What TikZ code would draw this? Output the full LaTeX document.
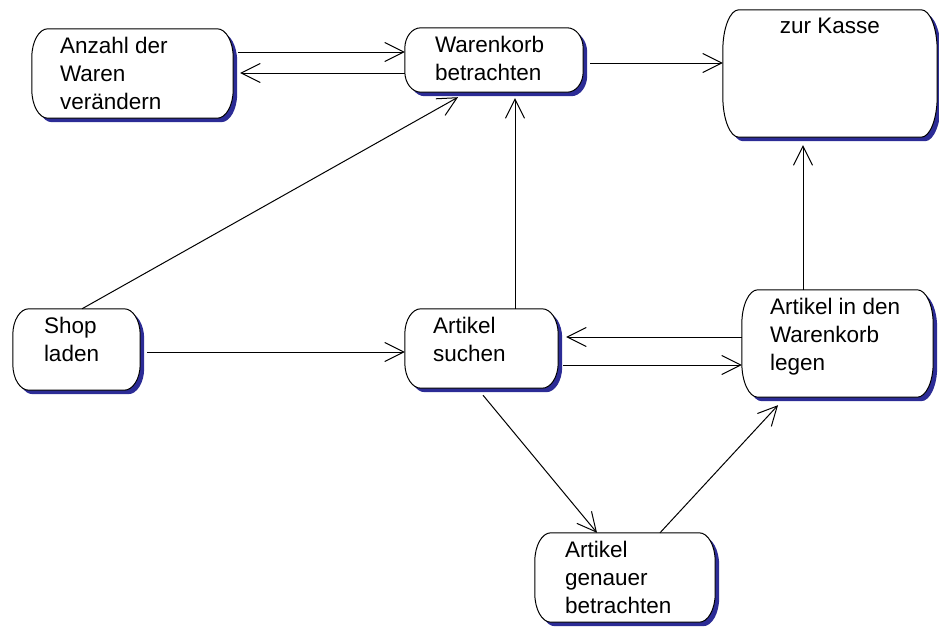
\documentclass[tikz,border=0pt]{standalone}
\usepackage{fontspec}
\setmainfont{Liberation Sans}
\usetikzlibrary{arrows.meta,calc,backgrounds}
\definecolor{shadowblue}{RGB}{44,44,150}

% text block of a state, set at the top of a box of fixed size
\newcommand{\statetext}[3]{\parbox[c][#2][t]{#1}{\raggedright #3}}
% outline of a state with bowed sides, moved by #2
\newcommand{\stateoutline}[2]{let \p1=($(#1.north west)+(#2)$),
  \p2=($(#1.south east)+(#2)$), \n1={0.32*(\y1-\y2)} in
  (\x1+16pt,\y1) -- (\x2-16pt,\y1)
  arc[start angle=90,end angle=0,x radius=16pt,y radius=\n1]
  -- (\x2,\y2+\n1)
  arc[start angle=0,end angle=-90,x radius=16pt,y radius=\n1]
  -- (\x1+16pt,\y2)
  arc[start angle=270,end angle=180,x radius=16pt,y radius=\n1]
  -- (\x1,\y1-\n1)
  arc[start angle=180,end angle=90,x radius=16pt,y radius=\n1]
  -- cycle}

\begin{document}
\begin{tikzpicture}[
    x=1pt,y=-1pt,
    state/.style 2 args={minimum width=#1,minimum height=#2,
      inner xsep=0pt,inner ysep=8pt,font=\fontsize{22.5}{28}\selectfont},
    arrow/.style={-{Straight Barb[length=19pt,width=19pt]},line width=1pt}
  ]
    \useasboundingbox (0,0) rectangle (939,627);

    \node[state={201pt}{89pt}] (anzahl) at (132.5,73.5)
      {\statetext{145pt}{73pt}{Anzahl der\\Waren\\verändern}};
    \node[state={178pt}{64pt}] (korb) at (494,60)
      {\statetext{118pt}{48pt}{Warenkorb\\betrachten}};
    \node[state={214pt}{127pt}] (kasse) at (830,73.5)
      {\statetext{190pt}{111pt}{\centering zur Kasse}};
    \node[state={127pt}{81pt}] (shop) at (76.5,349.5)
      {\statetext{65pt}{65pt}{Shop\\laden}};
    \node[state={153pt}{79pt}] (suchen) at (481.5,348.5)
      {\statetext{97pt}{63pt}{Artikel\\suchen}};
    \node[state={191pt}{107pt}] (legen) at (837.5,343.5)
      {\statetext{135pt}{91pt}{Artikel in den\\Warenkorb\\legen}};
    \node[state={180pt}{89pt}] (genauer) at (625,577.5)
      {\statetext{120pt}{73pt}{Artikel\\genauer\\betrachten}};

    % frames and shadows behind the texts
    \begin{scope}[on background layer]
      \foreach \s in {anzahl,korb,kasse,shop,suchen,legen,genauer}{
        \fill[shadowblue] \stateoutline{\s}{4pt,-4pt};
        \filldraw[fill=white,draw=black,line width=1pt] \stateoutline{\s}{0pt,0pt};
      }
    \end{scope}

    \draw[arrow] ([xshift=5pt,yshift=21.5pt]anzahl.east) -- ([yshift=8pt]korb.west);
    \draw[arrow] ([yshift=-13pt]korb.west) -- ([xshift=7pt,yshift=0.5pt]anzahl.east);
    \draw[arrow] ([xshift=7pt,yshift=-3pt]korb.east) -- ([yshift=10.5pt]kasse.west);
    \draw[arrow] ([xshift=5.5pt]shop.north) -- ([xshift=-36pt,yshift=-5pt]korb.south);
    \draw[arrow] ([xshift=7pt,yshift=-2.5pt]shop.east) -- ([yshift=-3.5pt]suchen.west);
    \draw[arrow] ([xshift=33.5pt]suchen.north) -- ([xshift=21pt,yshift=-6pt]korb.south);
    \draw[arrow] ([yshift=6.5pt]legen.west) -- ([xshift=8pt,yshift=11.5pt]suchen.east);
    \draw[arrow] ([xshift=5pt,yshift=-16.5pt]suchen.east) -- ([yshift=-21.5pt]legen.west);
    \draw[arrow] ([xshift=1.5pt,yshift=-7pt]suchen.south) -- ([xshift=-28pt]genauer.north);
    \draw[arrow] ([xshift=35pt]genauer.north) -- ([xshift=-59.5pt,yshift=-8pt]legen.south);
    \draw[arrow] ([xshift=-34.5pt]legen.north) -- ([xshift=-27pt,yshift=-8pt]kasse.south);
  \end{tikzpicture}
\end{document}
